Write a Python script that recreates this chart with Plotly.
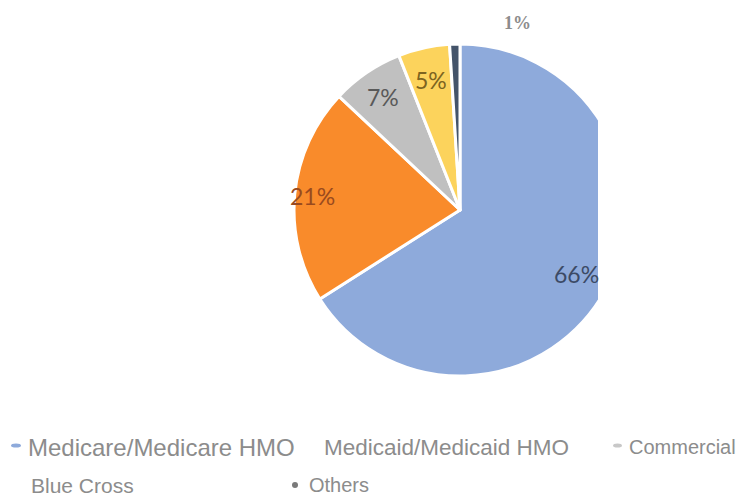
import math
import plotly.graph_objects as go

# ---- data ----
labels = ["Medicare/Medicare HMO", "Medicaid/Medicaid HMO", "Commercial", "Blue Cross", "Others"]
values = [66, 21, 7, 5, 1]
slice_colors = ["#8eaadb", "#f98b2b", "#c0c0c0", "#fcd35c", "#44546a"]
text_colors = ["#3c4a66", "#9a4a1e", "#595959", "#7d6420", "#8c8c8c"]

W, H = 736, 500
CX, CY, R = 460, 210, 166


def px(x):
    return x / W


def py(y):
    return 1 - y / H


fig = go.Figure()
fig.add_trace(go.Pie(
    labels=labels,
    values=values,
    sort=False,
    direction="clockwise",
    rotation=0,
    marker=dict(colors=slice_colors, line=dict(color="white", width=3)),
    textinfo="none",
    showlegend=False,
    domain=dict(x=[px(CX - R), px(CX + R)], y=[py(CY + R), py(CY - R)]),
))

annotations = []
total = sum(values)
cum = 0
label_r = [0.80, 0.89, 0.82, 0.80]
for i, v in enumerate(values):
    mid = (cum + v / 2) / total * 2 * math.pi
    cum += v
    if i < 4:
        lx = CX + R * label_r[i] * math.sin(mid)
        ly = CY - R * label_r[i] * math.cos(mid)
        annotations.append(dict(
            x=px(lx), y=py(ly), xref="paper", yref="paper",
            text=f"{v}%", showarrow=False, xanchor="center", yanchor="middle",
            font=dict(family="Lato, Liberation Sans", size=23, color=text_colors[i]),
        ))
    else:
        annotations.append(dict(
            x=px(517), y=py(23), xref="paper", yref="paper",
            text=f"<b>{v}%</b>", showarrow=False, xanchor="center", yanchor="middle",
            font=dict(family="Liberation Serif", size=18, color=text_colors[i]),
        ))

# ---- custom legend ----
legend_pos = [(26, 447, 24), (322, 447, 22.5), (627, 447, 20), (29, 485, 21), (307, 485, 20)]
for name, (lx, ly, fs) in zip(labels, legend_pos):
    annotations.append(dict(
        x=px(lx), y=py(ly), xref="paper", yref="paper",
        text=name, showarrow=False, xanchor="left", yanchor="middle",
        font=dict(family="Liberation Sans", size=fs, color="#8c8c8c"),
    ))

shapes = [
    # right-hand crop of the pie
    dict(type="rect", xref="paper", yref="paper", x0=px(598), x1=1.0, y0=py(390), y1=py(35),
         fillcolor="white", line=dict(width=0), layer="above"),
    # legend markers
    dict(type="circle", xref="paper", yref="paper", x0=px(11), x1=px(21), y0=py(447.5), y1=py(443.5),
         fillcolor="#8eaadb", line=dict(width=0)),
    dict(type="circle", xref="paper", yref="paper", x0=px(613), x1=px(622), y0=py(447.5), y1=py(443.5),
         fillcolor="#c8c8c8", line=dict(width=0)),
    dict(type="circle", xref="paper", yref="paper", x0=px(292), x1=px(298), y0=py(488), y1=py(482),
         fillcolor="#7a7a7a", line=dict(width=0)),
]

fig.update_layout(
    width=W, height=H,
    margin=dict(l=0, r=0, t=0, b=0),
    paper_bgcolor="white", plot_bgcolor="white",
    annotations=annotations,
    shapes=shapes,
)

fig.write_html("out.html", config={"displayModeBar": False},
               post_script="document.body.style.margin='0';")
